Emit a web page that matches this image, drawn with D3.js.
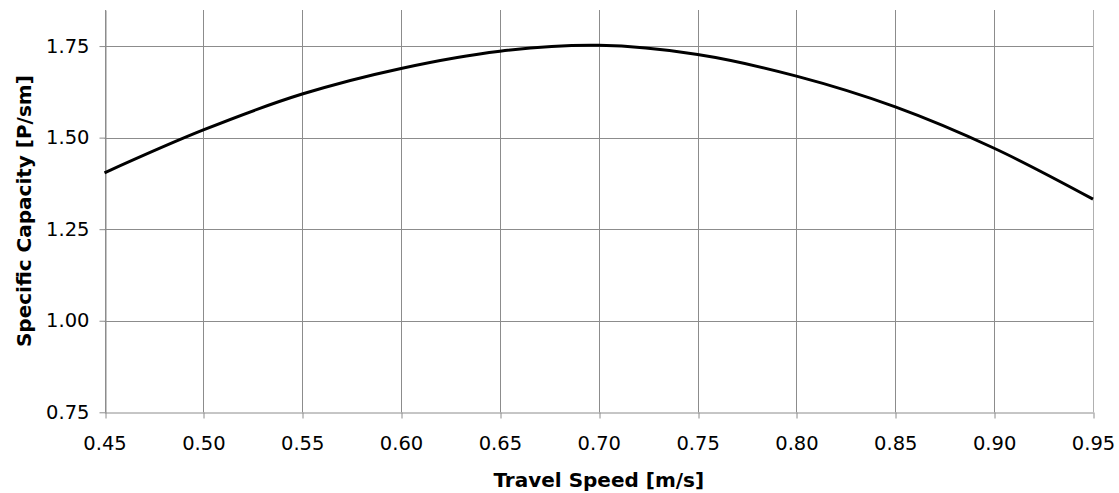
<!DOCTYPE html>
<html>
<head>
<meta charset="utf-8">
<script src="https://cdn.jsdelivr.net/npm/d3@7"></script>
<style>
  html, body { margin: 0; padding: 0; background: #fff; }
  svg { display: block; }
  text { font-family: "DejaVu Sans", Verdana, sans-serif; fill: #000; }
</style>
</head>
<body>
<svg id="chart" width="1119" height="493"></svg>
<script>
// Travel speed (m/s) against specific capacity (persons per second per metre)
const speeds     = [0.45, 0.50, 0.55, 0.60, 0.65, 0.70, 0.75, 0.80, 0.85, 0.90, 0.95];
const capacities = [1.404, 1.521, 1.619, 1.689, 1.736, 1.752, 1.727, 1.668, 1.584, 1.471, 1.332];
const xTicks = [0.45, 0.50, 0.55, 0.60, 0.65, 0.70, 0.75, 0.80, 0.85, 0.90, 0.95];
const yTicks = [0.75, 1.00, 1.25, 1.50, 1.75];

const xTitle = "Travel Speed [m/s]";
const yTitle = "Specific Capacity [P/sm]";

const svg = d3.select("#chart");
const plotLeft = 104.5, plotRight = 1093, plotTop = 10, plotBottom = 412.3;

const x = d3.scaleLinear().domain([0.45, 0.95]).range([plotLeft, plotRight]);
const y = d3.scaleLinear().domain([0.75, 1.8485]).range([plotBottom, plotTop]);

const gridColor = "#8c8c8c";
const tickFont = "19.5px";

// vertical gridlines
svg.append("g")
  .selectAll("line")
  .data(xTicks)
  .join("line")
  .attr("x1", d => Math.round(x(d)) + 0.5)
  .attr("x2", d => Math.round(x(d)) + 0.5)
  .attr("y1", plotTop)
  .attr("y2", plotBottom)
  .attr("stroke", d => d === 0.95 ? "#b0b0b0" : gridColor)
  .attr("stroke-width", 1);

// horizontal gridlines
svg.append("g")
  .selectAll("line")
  .data(yTicks.filter(d => d > 0.75))
  .join("line")
  .attr("x1", plotLeft)
  .attr("x2", plotRight)
  .attr("y1", d => Math.round(y(d)) + 0.5)
  .attr("y2", d => Math.round(y(d)) + 0.5)
  .attr("stroke", gridColor)
  .attr("stroke-width", 1);

// x axis
const xAxis = svg.append("g")
  .attr("transform", `translate(0,${Math.round(plotBottom) + 0.5})`)
  .call(d3.axisBottom(x).tickValues(xTicks).tickFormat(d3.format(".2f"))
    .tickSizeInner(6).tickSizeOuter(0).tickPadding(18));
xAxis.select(".domain").attr("stroke", gridColor);
xAxis.selectAll(".tick line").attr("stroke", gridColor)
  .attr("transform", d => `translate(${Math.round(x(d)) + 0.5 - x(d)},0)`);
xAxis.selectAll(".tick text")
  .attr("font-size", tickFont)
  .attr("font-family", "DejaVu Sans, Verdana, sans-serif")
  .attr("fill", "#000");

// y axis
const yAxis = svg.append("g")
  .attr("transform", `translate(${Math.round(plotLeft) + 0.5},0)`)
  .call(d3.axisLeft(y).tickValues(yTicks).tickFormat(d3.format(".2f"))
    .tickSizeInner(6).tickSizeOuter(0).tickPadding(10));
yAxis.select(".domain").attr("stroke", gridColor);
yAxis.selectAll(".tick line").attr("stroke", gridColor);
yAxis.selectAll(".tick text")
  .attr("font-size", tickFont)
  .attr("font-family", "DejaVu Sans, Verdana, sans-serif")
  .attr("fill", "#000");

// curve
const line = d3.line()
  .x((d, i) => x(speeds[i]))
  .y(d => y(d))
  .curve(d3.curveCatmullRom.alpha(0.5));

svg.append("path")
  .datum(capacities)
  .attr("d", line)
  .attr("fill", "none")
  .attr("stroke", "#000")
  .attr("stroke-width", 3)
  .attr("stroke-linejoin", "round");

// axis titles
svg.append("text")
  .attr("x", (plotLeft + plotRight) / 2)
  .attr("y", 487)
  .attr("text-anchor", "middle")
  .attr("font-size", "20px")
  .attr("font-weight", "bold")
  .text(xTitle);

svg.append("text")
  .attr("transform", `translate(31,${(plotTop + plotBottom) / 2}) rotate(-90)`)
  .attr("text-anchor", "middle")
  .attr("font-size", "20px")
  .attr("font-weight", "bold")
  .text(yTitle);
</script>
</body>
</html>
